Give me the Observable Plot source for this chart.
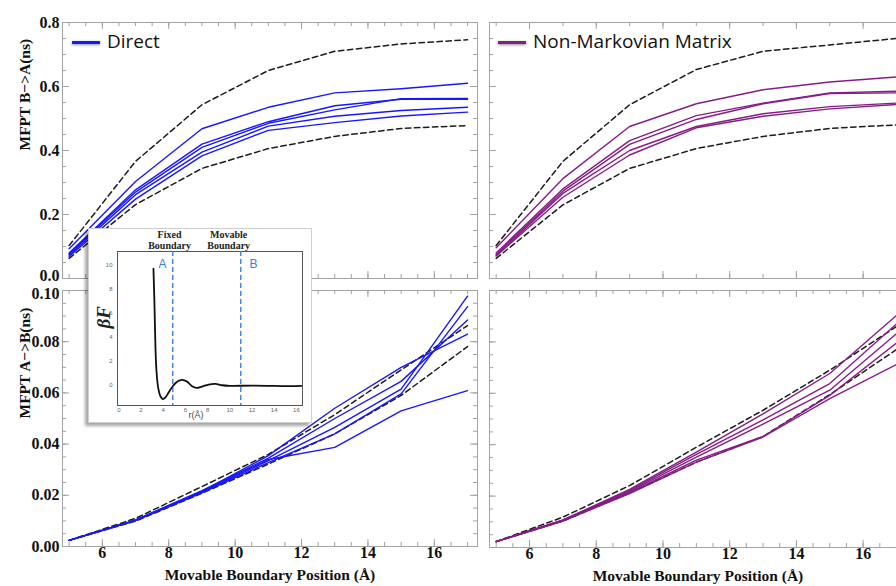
<!DOCTYPE html>
<html><head><meta charset="utf-8">
<script src="https://cdn.jsdelivr.net/npm/d3@7"></script>
<script src="https://cdn.jsdelivr.net/npm/@observablehq/plot@0.6"></script>
<style>
body{margin:0;background:#fff;}
#wrap{position:relative;width:896px;height:586px;overflow:hidden;background:#fff;}
.layer{position:absolute;left:0;top:0;}
.layer svg{max-width:none !important;background:transparent !important;}
.legend{position:absolute;font-family:"Open Sans",sans-serif;font-size:19px;color:#111;line-height:20px;white-space:nowrap;}
.sw{position:absolute;height:3px;width:28px;box-shadow:0 1px 3px rgba(0,0,0,0.45);}
#inset{position:absolute;left:88px;top:228px;width:224px;height:195px;background:#fff;border:1px solid #cfcfcf;box-sizing:border-box;box-shadow:-3px 3px 3px rgba(0,0,0,0.35);}
#inset svg{position:absolute;left:-1px;top:-1px;max-width:none !important;background:transparent !important;}
</style></head><body><div id="wrap"></div><script>
// ---------------- data ----------------
const positions = [5, 7, 9, 11, 13, 15, 17];

const directBA = [
  [0.093, 0.303, 0.468, 0.535, 0.580, 0.593, 0.610],
  [0.080, 0.277, 0.420, 0.490, 0.540, 0.560, 0.560],
  [0.077, 0.270, 0.410, 0.485, 0.527, 0.562, 0.563],
  [0.073, 0.262, 0.395, 0.476, 0.507, 0.525, 0.535],
  [0.069, 0.248, 0.383, 0.463, 0.487, 0.508, 0.520]
];
const directBABounds = [
  [0.103, 0.366, 0.543, 0.650, 0.710, 0.733, 0.746],
  [0.063, 0.231, 0.344, 0.406, 0.444, 0.469, 0.478]
];
const nonMarkovBA = [
  [0.096, 0.312, 0.475, 0.546, 0.590, 0.614, 0.630],
  [0.080, 0.280, 0.431, 0.509, 0.548, 0.580, 0.585],
  [0.076, 0.273, 0.419, 0.497, 0.546, 0.578, 0.580],
  [0.072, 0.266, 0.400, 0.475, 0.515, 0.537, 0.548],
  [0.070, 0.254, 0.386, 0.471, 0.507, 0.530, 0.544]
];
const nonMarkovBABounds = [
  [0.103, 0.366, 0.543, 0.653, 0.710, 0.730, 0.750],
  [0.063, 0.230, 0.344, 0.406, 0.444, 0.469, 0.480]
];
const directAB = [
  [0.0024, 0.0103, 0.0215, 0.0355, 0.0540, 0.0700, 0.0830],
  [0.0024, 0.0104, 0.0218, 0.0345, 0.0500, 0.0645, 0.0885],
  [0.0024, 0.0102, 0.0212, 0.0335, 0.0465, 0.0615, 0.0978],
  [0.0024, 0.0101, 0.0210, 0.0328, 0.0440, 0.0596, 0.0937],
  [0.0024, 0.0102, 0.0214, 0.0340, 0.0387, 0.0530, 0.0609]
];
const directABBounds = [
  [0.0024, 0.0110, 0.0234, 0.0360, 0.0515, 0.0690, 0.0863],
  [0.0024, 0.0099, 0.0208, 0.0322, 0.0440, 0.0590, 0.0781]
];
const nonMarkovAB = [
  [0.0023, 0.0107, 0.0226, 0.0371, 0.0520, 0.0677, 0.0903],
  [0.0023, 0.0106, 0.0222, 0.0362, 0.0497, 0.0638, 0.0870],
  [0.0023, 0.0105, 0.0218, 0.0352, 0.0480, 0.0612, 0.0832],
  [0.0023, 0.0104, 0.0214, 0.0340, 0.0432, 0.0592, 0.0796],
  [0.0023, 0.0103, 0.0210, 0.0332, 0.0430, 0.0579, 0.0712]
];
const nonMarkovABBounds = [
  [0.0023, 0.0118, 0.0241, 0.0390, 0.0534, 0.0690, 0.0860],
  [0.0023, 0.0103, 0.0212, 0.0332, 0.0432, 0.0595, 0.0770]
];

// inset: free energy profile
const freeR = [3.12, 3.21, 3.30, 3.39, 3.54, 3.75, 3.96, 4.2, 4.5, 4.86, 5.25, 5.7, 6.15, 6.6, 7.0, 7.5, 8.1, 8.7, 9.3, 10, 12, 14, 15.6, 16.44];
const freeF = [9.67, 6.76, 3.16, 1.22, -0.17, -0.91, -1.14, -1.0, -0.58, -0.08, 0.30, 0.44, 0.30, -0.08, -0.22, -0.11, 0.06, 0.11, 0.0, -0.05, -0.03, -0.05, -0.08, -0.05];
const boundaryR = [4.86, 10.99];
const boundaryLetters = ["A", "B"];
const letterR = [3.94, 12.13];
const letterF = [10.08, 10.08];
const boundaryNotes = ["Fixed\nBoundary", "Movable\nBoundary"];
const noteR = [4.57, 9.9];

// tick labels
const xMajor = [6, 8, 10, 12, 14, 16];
const yMajorBA = [0, 0.2, 0.4, 0.6, 0.8];
const yMajorAB = [0, 0.02, 0.04, 0.06, 0.08, 0.10];
const insetXTicks = [0, 2, 4, 6, 8, 10, 12, 14, 16];
const insetYTicks = [0, 2, 4, 6, 8, 10];

const yTitleBA = "MFPT B\u2212>A(ns)";
const yTitleAB = "MFPT A\u2212>B(ns)";
const xTitle = "Movable Boundary Position (\u00C5)";
const legendDirect = "Direct";
const legendNonMarkov = "Non-Markovian Matrix";

// ---------------- helpers ----------------
const W = 896, H = 586;
const SERIF = "'Liberation Serif','Times New Roman',serif";
const FRAME = "#a3a3a3";

function rowsOf(series, tag) {
  const out = [];
  series.forEach((vals, s) => vals.forEach((v, i) => out.push({x: positions[i], y: v, s: tag + s})));
  return out;
}

function panel(cfg) {
  const {x0, x1, y0, y1, yDomain, yMajor, yMinorStep, xMinorStep, showY, showX, yFmt, yTitle,
         lines, bounds, color, shiftValue, shiftDy} = cfg;
  const width = Math.max(W, x1 + 6);
  const fw = x1 - x0, fh = y1 - y0;
  const xDomain = [4.8, 17.3];
  const xMinor = d3.range(5, 17.3001, xMinorStep);
  const yMinor = d3.range(0, yDomain[1] + 1e-9, yMinorStep);
  const majLen = 7, minLen = 4;
  const tk = {stroke: FRAME, strokeWidth: 1};
  const marks = [
    // ticks (inward, all four sides)
    Plot.ruleX(xMinor, {x: d => d, insetTop: fh - minLen, ...tk}),
    Plot.ruleX(xMinor, {x: d => d, insetBottom: fh - minLen, ...tk}),
    Plot.ruleX(xMajor, {x: d => d, insetTop: fh - majLen, ...tk}),
    Plot.ruleX(xMajor, {x: d => d, insetBottom: fh - majLen, ...tk}),
    Plot.ruleY(yMinor, {y: d => d, insetRight: fw - minLen, ...tk}),
    Plot.ruleY(yMinor, {y: d => d, insetLeft: fw - minLen, ...tk}),
    Plot.ruleY(yMajor, {y: d => d, insetRight: fw - majLen, ...tk}),
    Plot.ruleY(yMajor, {y: d => d, insetLeft: fw - majLen, ...tk}),
    Plot.frame({stroke: FRAME, strokeWidth: 1}),
    Plot.line(rowsOf(bounds, "b"), {x: "x", y: "y", z: "s", stroke: "#1c1c1c", strokeWidth: 1.5, strokeDasharray: "5.5,3.5"}),
    Plot.line(rowsOf(lines, "l"), {x: "x", y: "y", z: "s", stroke: color, strokeWidth: 1.4})
  ];
  if (showY) {
    const labStyle = {frameAnchor: "left", textAnchor: "end", dx: -3,
      fontSize: 16, fontWeight: "bold", fontFamily: SERIF, fill: "#111"};
    marks.push(Plot.text(yMajor.filter(d => d !== shiftValue), {y: d => d, text: yFmt, ...labStyle}));
    marks.push(Plot.text(yMajor.filter(d => d === shiftValue), {y: d => d, text: yFmt, ...labStyle, dy: shiftDy}));
    marks.push(Plot.text([yTitle], {text: d => d, frameAnchor: "left", rotate: -90, dx: -37,
      fontSize: 15.5, fontWeight: "bold", fontFamily: SERIF, fill: "#111"}));
  }
  if (showX) {
    marks.push(Plot.text(xMajor, {x: d => d, text: d => String(d), frameAnchor: "bottom", dy: 11,
      fontSize: 16, fontWeight: "bold", fontFamily: SERIF, fill: "#111"}));
    marks.push(Plot.text([xTitle], {text: d => d, frameAnchor: "bottom", dy: 33,
      fontSize: 15.5, fontWeight: "bold", fontFamily: SERIF, fill: "#111"}));
  }
  const svg = Plot.plot({
    width, height: H,
    marginLeft: x0, marginRight: width - x1, marginTop: y0, marginBottom: H - y1,
    x: {domain: xDomain, axis: null},
    y: {domain: yDomain, axis: null},
    style: {background: "transparent", maxWidth: "none", overflow: "visible"},
    marks
  });
  const div = document.createElement("div");
  div.className = "layer";
  div.appendChild(svg);
  document.getElementById("wrap").appendChild(div);
}

const fmt1 = d => d.toFixed(1), fmt2 = d => d.toFixed(2);

panel({x0: 62, x1: 477, y0: 22, y1: 278, yDomain: [0, 0.8], yMajor: yMajorBA, yMinorStep: 0.05, xMinorStep: 0.5,
  showY: true, showX: false, yFmt: fmt1, yTitle: yTitleBA, lines: directBA, bounds: directBABounds, color: "#1717ff",
  shiftValue: 0, shiftDy: -3});
panel({x0: 489, x1: 906, y0: 22, y1: 278, yDomain: [0, 0.8], yMajor: yMajorBA, yMinorStep: 0.05, xMinorStep: 1,
  showY: false, showX: false, lines: nonMarkovBA, bounds: nonMarkovBABounds, color: "#861c86"});
panel({x0: 62, x1: 477, y0: 290, y1: 546, yDomain: [0, 0.1], yMajor: yMajorAB, yMinorStep: 0.005, xMinorStep: 0.5,
  showY: true, showX: true, yFmt: fmt2, yTitle: yTitleAB, lines: directAB, bounds: directABBounds, color: "#1717ff",
  shiftValue: 0.10, shiftDy: 3});
panel({x0: 489, x1: 906, y0: 290, y1: 547, yDomain: [0, 0.1], yMajor: yMajorAB, yMinorStep: 0.005, xMinorStep: 0.5,
  showY: false, showX: true, lines: nonMarkovAB, bounds: nonMarkovABBounds, color: "#861c86"});

// legends
function legend(left, text, color) {
  const wrap = document.getElementById("wrap");
  const sw = document.createElement("div");
  sw.className = "sw";
  sw.style.left = left + "px"; sw.style.top = "41px"; sw.style.background = color;
  wrap.appendChild(sw);
  const t = document.createElement("div");
  t.className = "legend";
  t.style.left = (left + 35) + "px"; t.style.top = "31px";
  t.textContent = text;
  wrap.appendChild(t);
}
legend(72, legendDirect, "#1717ff");
legend(498, legendNonMarkov, "#861c86");

// inset
const insetDiv = document.createElement("div");
insetDiv.id = "inset";
document.getElementById("wrap").appendChild(insetDiv);
const freeRows = freeR.map((r, i) => ({r, f: freeF[i]}));
const insetSvg = Plot.plot({
  width: 224, height: 195,
  marginLeft: 29, marginRight: 10, marginTop: 23, marginBottom: 18,
  x: {domain: [-0.12, 16.55], axis: null},
  y: {domain: [-1.68, 11.1], axis: null},
  style: {background: "transparent", maxWidth: "none", overflow: "visible"},
  marks: [
    Plot.frame({stroke: "#555", strokeWidth: 1}),
    Plot.ruleX(boundaryR, {x: d => d, stroke: "#3a7de0", strokeWidth: 1.4, strokeDasharray: "5,3"}),
    Plot.line(freeRows, {x: "r", y: "f", curve: "catmull-rom", stroke: "#111", strokeWidth: 1.8}),
    Plot.text(boundaryLetters, {x: (d, i) => letterR[i], y: (d, i) => letterF[i], text: d => d,
      fontSize: 12, fill: "#3a7de0", fontFamily: "'Liberation Sans',Arial,sans-serif"}),
    Plot.text(boundaryNotes, {x: (d, i) => noteR[i], text: d => d, frameAnchor: "top", lineAnchor: "bottom", dy: -3,
      lineHeight: 1.05, fontSize: 10, fontWeight: "bold", fontFamily: SERIF, fill: "#222"}),
    Plot.text(insetXTicks, {x: d => d, text: d => String(d), frameAnchor: "bottom", dy: 6,
      fontSize: 6, fill: "#666", fontFamily: "'Liberation Sans',Arial,sans-serif"}),
    Plot.text(insetYTicks, {y: d => d, text: d => String(d), frameAnchor: "left", textAnchor: "end", dx: -5,
      fontSize: 6, fill: "#666", fontFamily: "'Liberation Sans',Arial,sans-serif"}),
    Plot.text(["r(\u00C5)"], {text: d => d, frameAnchor: "bottom", dx: -14, dy: 12,
      fontSize: 9, fill: "#444", fontFamily: "'Liberation Sans',Arial,sans-serif"}),
    Plot.text(["\u03B2F"], {text: d => d, frameAnchor: "left", rotate: -90, dx: -14,
      fontSize: 19, fontStyle: "italic", fontWeight: "bold", fill: "#222", fontFamily: SERIF})
  ]
});
insetDiv.appendChild(insetSvg);
</script></body></html>
